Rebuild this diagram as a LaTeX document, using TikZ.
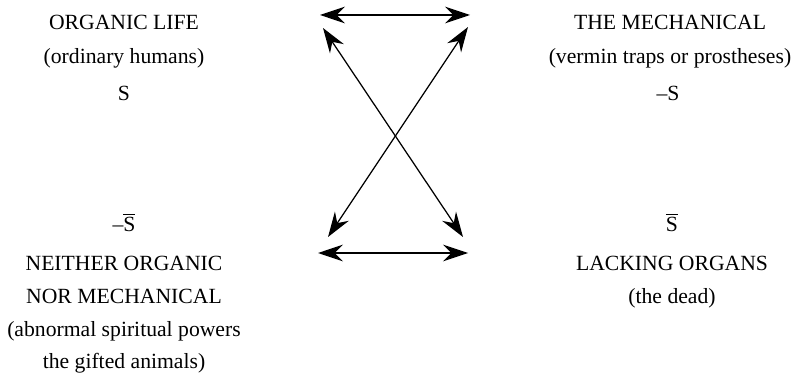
\documentclass[tikz,border=0pt]{standalone}
\usepackage{fontspec}
\setmainfont{Liberation Serif}
\usetikzlibrary{arrows.meta}
\newcommand{\Sbar}{\ensuremath{\overline{\mbox{S}}}}
\begin{document}
\begin{tikzpicture}[x=0.6pt,y=-0.6pt,
  lbl/.style={anchor=base,inner sep=0pt,font=\fontsize{13}{15}\selectfont},
  arr/.style={line width=0.75pt,{Stealth[length=15pt,width=10pt,inset=5pt]}-{Stealth[length=15pt,width=10pt,inset=5pt]}}]
  \useasboundingbox (0,0) rectangle (795,375);

  \node[lbl] (orgA) at (124,30) {ORGANIC LIFE};
  \node[lbl] (orgB) at (124,64) {(ordinary humans)};
  \node[lbl] (orgS) at (124,101) {S};

  \node[lbl] (mecA) at (670,30) {THE MECHANICAL};
  \node[lbl] (mecB) at (670,64) {(vermin traps or prostheses)};
  \node[lbl] (mecS) at (668,101) {–S};

  \node[lbl] (neiS) at (124,231) {–\Sbar};
  \node[lbl] (neiA) at (124,270) {NEITHER ORGANIC};
  \node[lbl] (neiB) at (124,303) {NOR MECHANICAL};
  \node[lbl] (neiC) at (124,336) {(abnormal spiritual powers};
  \node[lbl] (neiD) at (124,368) {the gifted animals)};

  \node[lbl] (lacS) at (672,231) {\Sbar};
  \node[lbl] (lacA) at (672,270) {LACKING ORGANS};
  \node[lbl] (lacB) at (672,303) {(the dead)};

  \coordinate (tl) at (320,15);
  \coordinate (tr) at (470,15);
  \coordinate (dtl) at (323,28);
  \coordinate (dtr) at (468,27);
  \coordinate (dbl) at (328,237);
  \coordinate (dbr) at (463,237);
  \coordinate (bl) at (318,253);
  \coordinate (br) at (468,253);

  \draw[arr] (tl) -- (tr);
  \draw[arr] (dtl) -- (dbr);
  \draw[arr] (dtr) -- (dbl);
  \draw[arr] (bl) -- (br);
\end{tikzpicture}
\end{document}
